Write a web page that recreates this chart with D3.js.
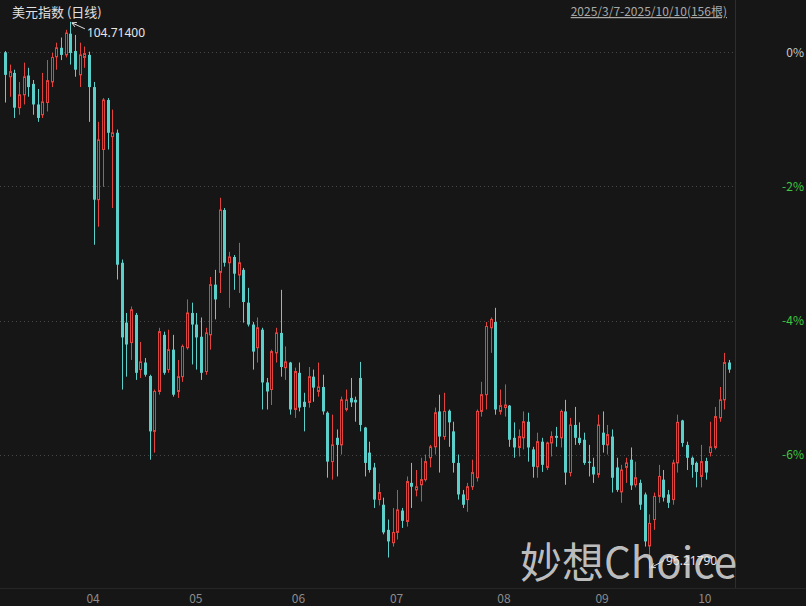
<!DOCTYPE html>
<html><head><meta charset="utf-8">
<script src="https://cdn.jsdelivr.net/npm/d3@7"></script>
<style>html,body{margin:0;padding:0;background:#161616;}svg{display:block}</style>
</head><body>
<svg id="c" width="806" height="606"></svg>
<script>
const titleText = "美元指数 (日线)";
const rangeText = "2025/3/7-2025/10/10(156根)";
const watermark = "妙想Choice";
const startDate = "2025-03-07", endDate = "2025-10-10";
const pctTicks = [0, -2, -4, -6];

const opens = [104.24,103.86,103.92,103.38,103.58,103.88,103.75,103.43,103.27,103.46,103.78,104.17,104.31,104.20,104.53,104.26,103.89,104.16,104.20,103.70,
101.95,102.73,103.50,102.93,102.99,100.97,100.04,99.73,100.16,99.31,99.42,99.21,98.35,98.97,99.85,99.31,99.62,98.97,99.20,99.65,
100.19,100.01,99.82,99.28,99.85,100.63,100.82,101.79,100.97,101.06,100.78,100.86,100.35,100.01,99.65,99.93,99.11,99.00,99.57,99.88,
99.34,99.42,98.69,99.26,98.81,98.80,99.20,98.97,99.04,98.64,97.88,98.25,98.14,98.69,98.87,98.84,99.18,98.41,98.02,97.79,
97.29,97.21,96.82,96.62,96.78,97.12,96.95,97.55,97.44,97.52,97.60,97.94,98.11,98.66,98.27,98.67,98.35,97.86,97.37,97.29,
97.49,97.63,98.66,98.92,99.96,100.05,98.66,98.72,98.75,98.25,98.10,98.25,98.50,98.07,97.80,98.19,97.79,98.17,98.28,98.25,
98.66,97.71,98.45,98.25,98.22,97.88,97.80,97.68,98.33,98.14,98.27,97.79,97.41,97.79,97.91,97.52,97.55,97.37,96.57,96.98,
97.34,97.60,97.37,97.29,97.86,98.52,98.14,97.94,97.86,97.65,97.89,98.02,98.10,98.56,98.84,99.42];
const highs = [104.26,104.05,103.97,103.78,104.08,104.00,103.81,103.67,103.92,104.12,104.23,104.39,104.47,104.59,104.714,104.51,104.39,104.33,104.25,103.78,
103.16,103.53,103.53,103.35,103.04,101.02,100.19,100.29,100.19,99.74,99.49,99.23,99.00,99.96,99.90,99.93,99.85,99.46,99.70,100.40,
100.35,100.19,100.12,99.96,100.75,100.86,101.98,101.82,101.14,101.09,101.28,100.89,100.58,100.05,100.12,99.96,99.18,99.62,99.96,100.55,
99.67,99.43,99.34,99.42,98.95,99.35,99.31,99.42,99.23,98.66,98.61,98.38,98.89,99.00,99.18,98.89,99.43,98.42,98.19,97.86,
97.54,97.32,96.98,97.16,97.44,97.16,97.65,97.86,97.75,97.94,97.99,98.14,98.72,98.92,98.95,98.69,98.50,97.99,97.44,97.55,
97.91,98.69,99.12,100.05,100.12,100.27,99.00,99.08,98.76,98.49,98.38,98.66,98.64,98.11,98.33,98.25,98.19,98.35,98.42,98.69,
98.84,98.56,98.73,98.49,98.33,98.14,97.94,98.61,98.66,98.45,98.38,97.94,97.83,97.94,98.10,97.88,97.60,97.40,97.06,97.40,
97.83,97.75,97.44,97.91,98.61,98.53,98.19,97.96,97.88,98.14,97.94,98.50,98.73,99.04,99.57,99.46];
const lows = [103.46,103.55,103.22,103.27,103.43,103.55,103.27,103.16,103.22,103.32,103.70,103.97,104.12,104.16,104.05,103.86,103.70,104.00,103.16,101.25,
101.53,102.15,102.73,101.82,100.71,99.00,99.20,99.46,99.15,99.18,99.20,97.91,98.02,98.92,99.23,99.26,98.89,98.87,99.12,99.62,
99.39,99.31,99.15,99.23,99.62,100.09,100.50,100.91,100.27,100.55,100.50,100.04,99.98,99.31,99.42,98.69,98.69,98.76,99.42,99.20,
99.15,98.61,98.56,98.66,98.35,98.72,98.81,98.89,98.61,97.63,97.60,97.65,97.99,98.66,98.73,98.50,98.35,97.65,97.71,97.16,
97.20,96.75,96.39,96.56,96.67,96.85,96.87,97.16,97.34,97.26,97.57,97.79,97.99,97.71,98.22,98.11,97.71,97.29,97.16,97.10,
97.44,97.57,98.58,98.69,99.57,98.61,98.61,98.58,98.11,97.94,97.96,98.07,97.88,97.63,97.63,97.72,97.75,97.96,98.11,98.10,
97.52,97.65,98.14,98.14,97.83,97.65,97.55,97.63,98.02,97.99,97.40,97.41,97.24,97.55,97.44,97.48,97.13,96.56,96.2179,96.82,
97.24,97.26,97.16,97.21,97.71,98.11,97.75,97.63,97.48,97.48,97.60,97.96,98.07,98.50,98.69,99.26];
const closes = [103.89,103.94,103.38,103.58,103.86,103.70,103.43,103.22,103.47,103.80,104.16,104.31,104.20,104.54,104.23,103.97,104.20,104.22,103.70,101.95,
102.88,103.50,102.99,102.99,100.94,99.81,99.70,100.24,99.26,99.43,99.23,98.35,98.97,99.90,99.26,99.62,98.92,99.20,99.67,100.19,
100.01,99.81,99.26,99.88,100.63,100.40,101.79,100.97,101.06,100.80,100.97,100.36,100.01,99.59,99.96,99.11,98.97,99.59,99.88,99.35,
99.43,98.69,99.28,98.72,98.73,99.20,99.03,99.04,98.66,97.88,98.14,98.14,98.84,98.84,98.80,98.80,98.45,97.86,97.75,97.29,
97.40,96.78,96.64,96.78,97.13,96.96,97.57,97.49,97.49,97.60,97.88,98.11,98.64,98.27,98.66,98.49,97.86,97.37,97.21,97.49,
97.71,98.66,98.92,99.98,100.09,98.69,98.75,98.76,98.22,98.10,98.27,98.50,98.10,97.80,98.19,97.83,98.17,98.27,98.25,98.66,
97.71,98.45,98.25,98.17,97.86,97.86,97.68,98.45,98.14,98.30,97.63,97.44,97.75,97.86,97.51,97.63,97.21,96.64,96.92,97.34,
97.65,97.32,97.24,97.86,98.49,98.17,97.94,97.83,97.72,97.88,97.71,98.11,98.58,98.84,99.42,99.31];

// trading days: every weekday in the range
const dates = d3.timeDay.range(new Date(startDate + "T00:00"), d3.timeDay.offset(new Date(endDate + "T00:00"), 1))
  .filter(d => d.getDay() !== 0 && d.getDay() !== 6);
const bars = dates.map((d, i) => ({d, i, o: opens[i], h: highs[i], l: lows[i], c: closes[i]}));
const base = opens[0];

const W = 806, H = 606;
const plotRight = 735;
const svg = d3.select("#c");
svg.append("rect").attr("width", W).attr("height", H).attr("fill", "#161616");

const x = d3.scaleBand().domain(d3.range(bars.length)).range([2.66, 731.2]).paddingInner(0.36).paddingOuter(0.18);
const y = d3.scaleLinear().domain([base * (1 - 0.08), base * (1 + 0.0078)]).range([589, 0]);
const cx = i => x(i) + x.bandwidth() / 2;

// grid
const tickPrices = pctTicks.map(p => base * (1 + p / 100));
svg.append("g").selectAll("line").data(tickPrices).join("line")
  .attr("x1", 0).attr("x2", plotRight).attr("y1", d => Math.round(y(d)) + 0.5).attr("y2", d => Math.round(y(d)) + 0.5)
  .attr("stroke", "#474747").attr("stroke-dasharray", "1,3");

// separators
svg.append("line").attr("x1", plotRight + 0.5).attr("x2", plotRight + 0.5).attr("y1", 0).attr("y2", 588)
  .attr("stroke", "#2e2e2e");
svg.append("line").attr("x1", 0).attr("x2", W).attr("y1", 588.5).attr("y2", 588.5).attr("stroke", "#262626");

// candles
const up = "#e2433f", down = "#5ccfca";
const g = svg.append("g");
g.selectAll("line.w").data(bars).join("line").attr("class", "w")
  .attr("x1", d => Math.round(cx(d.i)) + 0.5).attr("x2", d => Math.round(cx(d.i)) + 0.5)
  .attr("y1", d => y(d.h)).attr("y2", d => y(d.l))
  .attr("stroke", d => d.c >= d.o ? up : down).attr("stroke-width", 1);
g.selectAll("rect.b").data(bars).join("rect").attr("class", "b")
  .attr("x", d => Math.round(cx(d.i)) - 1)
  .attr("width", 3)
  .attr("y", d => y(Math.max(d.o, d.c)))
  .attr("height", d => Math.max(1, Math.abs(y(d.o) - y(d.c))))
  .attr("fill", d => d.c >= d.o ? "#161616" : down)
  .attr("stroke", d => d.c >= d.o ? up : "none")
  .attr("stroke-width", d => d.c >= d.o ? 1 : 0)
  .each(function(d){ if (d.c >= d.o) d3.select(this).attr("x", Math.round(cx(d.i)) - 0.5).attr("width", 2); });

// right axis labels
svg.append("g").selectAll("text").data(pctTicks).join("text")
  .attr("x", 804).attr("y", d => y(base * (1 + d / 100)) + 4.5)
  .attr("text-anchor", "end")
  .attr("font-family", "'Noto Sans CJK SC', 'Noto Sans', sans-serif").attr("font-size", 12)
  .attr("fill", d => d === 0 ? "#c8c8c8" : "#3fc83f")
  .text(d => d + "%");

// month labels
const monthStarts = bars.filter((b, i) => i > 0 && b.d.getMonth() !== bars[i - 1].d.getMonth());
svg.append("g").selectAll("text").data(monthStarts).join("text")
  .attr("x", d => cx(d.i) + 2).attr("y", 603)
  .attr("font-family", "'Noto Sans CJK SC', 'Noto Sans', sans-serif").attr("font-size", 12)
  .attr("fill", "#8c8c8c")
  .text(d => d3.timeFormat("%m")(d.d));

// title & range
svg.append("text").attr("x", 12).attr("y", 17).attr("font-family", "'Noto Sans CJK SC', sans-serif")
  .attr("font-size", 13).attr("fill", "#e0e0e0").text(titleText);
svg.append("text").attr("x", 727).attr("y", 16).attr("text-anchor", "end")
  .attr("font-family", "'Noto Sans CJK SC', sans-serif").attr("font-size", 12).attr("fill", "#a8a8a8")
  .attr("text-decoration", "underline").text(rangeText);

// watermark
svg.append("text").attr("x", 520).attr("y", 578)
  .attr("font-family", "'Noto Sans CJK SC', sans-serif").attr("font-size", 42)
  .attr("fill", "#d4d4d4").attr("fill-opacity", 0.9).text(watermark);

// extremes
const hiIdx = d3.maxIndex(bars, d => d.h), loIdx = d3.minIndex(bars, d => d.l);
function annot(i, val, dx, dy) {
  const px = cx(i) + 1.5, py = y(val) + (dy > 0 ? 1 : -1);
  const tx = px + dx, ty = py + dy;
  svg.append("line").attr("x1", px).attr("y1", py).attr("x2", tx).attr("y2", ty).attr("stroke", "#e0e0e0");
  const ang = Math.atan2(dy, dx);
  [0.5, -0.5].forEach(a => {
    svg.append("line").attr("x1", px).attr("y1", py)
      .attr("x2", px + 5 * Math.cos(ang + a)).attr("y2", py + 5 * Math.sin(ang + a)).attr("stroke", "#e0e0e0");
  });
  svg.append("text").attr("x", tx + 2).attr("y", ty + (dy > 0 ? 8 : 4))
    .attr("font-family", "'Noto Sans', sans-serif").attr("font-size", 12).attr("fill", "#e6e6e6")
    .text(val.toFixed(5));
}
annot(hiIdx, bars[hiIdx].h, 13, 6);
annot(loIdx, bars[loIdx].l, 13, -7);
</script>
</body></html>
